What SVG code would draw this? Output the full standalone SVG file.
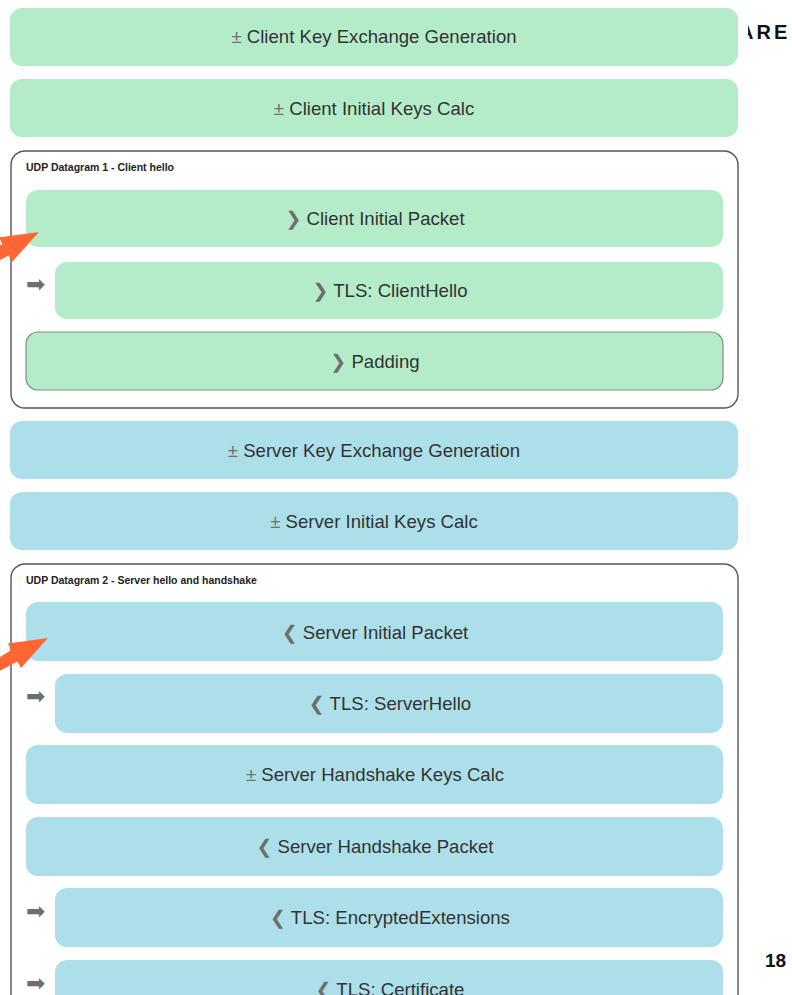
<svg xmlns="http://www.w3.org/2000/svg" width="792" height="995" viewBox="0 0 792 995">
  <style>
    .g { fill: #b4ecca; }
    .b { fill: #acdfe9; }
    .pad { stroke: #7f8f84; stroke-width: 1.2; }
    .frame { fill: #ffffff; stroke: #555555; stroke-width: 1.4; }
    .t { font-family: "Liberation Sans", Arial, sans-serif; font-size: 18.6px; fill: #333333; text-anchor: middle; }
    .sym { fill: #6e6e6e; font-family: "DejaVu Sans", sans-serif; font-weight: bold; font-size: 19px; }
    .pm { fill: #707070; }
    .cap { font-family: "Liberation Sans", Arial, sans-serif; font-size: 10.5px; font-weight: bold; fill: #222222; }
    .nest { font-family: "DejaVu Sans", sans-serif; font-size: 23px; fill: #6e6e6e; }
    .pointer { fill: #ff6633; }
    .brand { font-family: "Liberation Sans", Arial, sans-serif; font-weight: bold; fill: #111111; }
  </style>
  <defs>
    <clipPath id="brandClip"><rect x="748" y="0" width="44" height="60"/></clipPath>
  </defs>
  <rect width="792" height="995" fill="#ffffff"/>

  <text class="brand" x="739" y="39" font-size="20" letter-spacing="3" clip-path="url(#brandClip)">ARE</text>
  <text class="brand" x="765" y="967" font-size="19">18</text>

  <g id="client-kex">
    <rect class="g" x="10" y="8" width="728" height="58" rx="12"/>
    <text class="t" x="374" y="43"><tspan class="pm">±</tspan> Client Key Exchange Generation</text>
  </g>
  <g id="client-initial-keys">
    <rect class="g" x="10" y="79" width="728" height="58" rx="12"/>
    <text class="t" x="374" y="115"><tspan class="pm">±</tspan> Client Initial Keys Calc</text>
  </g>

  <g id="datagram-1">
    <rect class="frame" x="11" y="151" width="727" height="257" rx="14"/>
    <text class="cap" x="26" y="171">UDP Datagram 1 - Client hello</text>
  </g>
  <g id="client-initial-packet">
    <rect class="g" x="26" y="190" width="697" height="57" rx="12"/>
    <text class="t" x="375" y="225"><tspan class="sym">❯</tspan> Client Initial Packet</text>
  </g>
  <g id="tls-clienthello">
    <text class="nest" x="26" y="292">➡</text>
    <rect class="g" x="55" y="262" width="668" height="57" rx="12"/>
    <text class="t" x="390" y="297"><tspan class="sym">❯</tspan> TLS: ClientHello</text>
  </g>
  <g id="padding">
    <rect class="g pad" x="26" y="332" width="697" height="58" rx="12"/>
    <text class="t" x="375" y="368"><tspan class="sym">❯</tspan> Padding</text>
  </g>

  <g id="server-kex">
    <rect class="b" x="10" y="421" width="728" height="58" rx="12"/>
    <text class="t" x="374" y="457"><tspan class="pm">±</tspan> Server Key Exchange Generation</text>
  </g>
  <g id="server-initial-keys">
    <rect class="b" x="10" y="492" width="728" height="58" rx="12"/>
    <text class="t" x="374" y="528"><tspan class="pm">±</tspan> Server Initial Keys Calc</text>
  </g>

  <g id="datagram-2">
    <rect class="frame" x="11" y="564" width="727" height="460" rx="14"/>
    <text class="cap" x="26" y="584">UDP Datagram 2 - Server hello and handshake</text>
  </g>
  <g id="server-initial-packet">
    <rect class="b" x="26" y="602" width="697" height="59" rx="12"/>
    <text class="t" x="375" y="639"><tspan class="sym">❮</tspan> Server Initial Packet</text>
  </g>
  <g id="tls-serverhello">
    <text class="nest" x="26" y="704">➡</text>
    <rect class="b" x="55" y="674" width="668" height="59" rx="12"/>
    <text class="t" x="390" y="710"><tspan class="sym">❮</tspan> TLS: ServerHello</text>
  </g>
  <g id="server-handshake-keys">
    <rect class="b" x="26" y="745" width="697" height="59" rx="12"/>
    <text class="t" x="375" y="781"><tspan class="pm">±</tspan> Server Handshake Keys Calc</text>
  </g>
  <g id="server-handshake-packet">
    <rect class="b" x="26" y="817" width="697" height="59" rx="12"/>
    <text class="t" x="375" y="853"><tspan class="sym">❮</tspan> Server Handshake Packet</text>
  </g>
  <g id="tls-encryptedextensions">
    <text class="nest" x="26" y="919">➡</text>
    <rect class="b" x="55" y="888" width="668" height="59" rx="12"/>
    <text class="t" x="390" y="924"><tspan class="sym">❮</tspan> TLS: EncryptedExtensions</text>
  </g>
  <g id="tls-certificate">
    <text class="nest" x="26" y="991">➡</text>
    <rect class="b" x="55" y="960" width="668" height="59" rx="12"/>
    <text class="t" x="390" y="996"><tspan class="sym">❮</tspan> TLS: Certificate</text>
  </g>

  <g id="connectors">
    <polygon class="pointer" points="39,232 12,262 8.5,255.5 -17,269 -22,259 2.3,244 -1.2,237.4"/>
    <polygon class="pointer" transform="translate(9,406)" points="39,232 12,262 8.5,255.5 -17,269 -22,259 2.3,244 -1.2,237.4"/>
  </g>
</svg>
